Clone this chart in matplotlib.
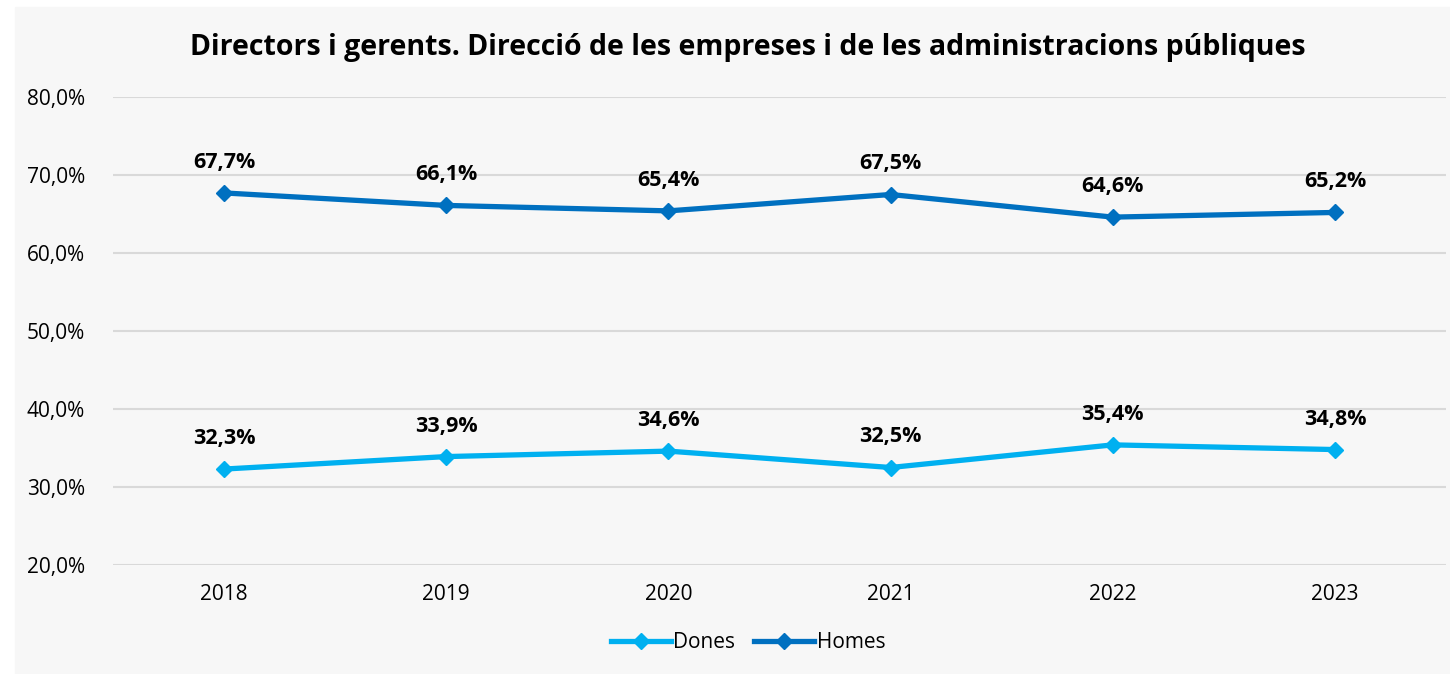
import matplotlib.pyplot as plt
from matplotlib.patches import Rectangle

# === Dades ===
anys = ['2018', '2019', '2020', '2021', '2022', '2023']
dones = [32.3, 33.9, 34.6, 32.5, 35.4, 34.8]
homes = [67.7, 66.1, 65.4, 67.5, 64.6, 65.2]
titol = 'Directors i gerents. Direcció de les empreses i de les administracions públiques'

plt.rcParams['font.family'] = ['Open Sans', 'DejaVu Sans']

fig = plt.figure(figsize=(14.5, 6.74), dpi=100, facecolor='white')
# panell gris de fons
fig.add_artist(Rectangle((15 / 1450, 0), 1 - 15 / 1450, 1 - 7 / 674,
                         transform=fig.transFigure, color='#f7f7f7', zorder=-10))

ax = fig.add_axes([113 / 1450, 1 - 565 / 674, (1446 - 113) / 1450, (565 - 97) / 674])
ax.set_facecolor('none')

x = range(len(anys))
ax.plot(x, dones, color='#00b0f0', lw=3.8, marker='D', ms=8.5, label='Dones', zorder=3)
ax.plot(x, homes, color='#0070c0', lw=3.8, marker='D', ms=8.5, label='Homes', zorder=3)

for serie in (dones, homes):
    for i, v in enumerate(serie):
        ax.annotate(f'{v:.1f}%'.replace('.', ','), (i, v), xytext=(0, 22),
                    textcoords='offset points', ha='center', va='center',
                    fontsize=15.5, fontweight='bold')

ax.set_xlim(-0.5, len(anys) - 0.5)
ax.set_ylim(20, 80)
ax.set_yticks(range(20, 81, 10))
ax.set_yticklabels([f'{t},0%' for t in range(20, 81, 10)], fontsize=15)
ax.set_xticks(list(x))
ax.set_xticklabels(anys, fontsize=15)
ax.tick_params(length=0, pad=14)
ax.tick_params(axis='y', pad=20)
ax.grid(axis='y', color='#d9d9d9', lw=1.5)
ax.set_axisbelow(True)
for s in ax.spines.values():
    s.set_visible(False)

fig.text(748 / 1450, 1 - 47 / 674, titol, ha='center', va='center',
         fontsize=20.5, fontweight='bold')
fig.legend(loc='center', bbox_to_anchor=(748 / 1450, 1 - 643 / 674), ncol=2,
           frameon=False, fontsize=15, handlelength=2.9, columnspacing=0.9,
           handletextpad=0.1)

fig.savefig('out.png', dpi=100)
